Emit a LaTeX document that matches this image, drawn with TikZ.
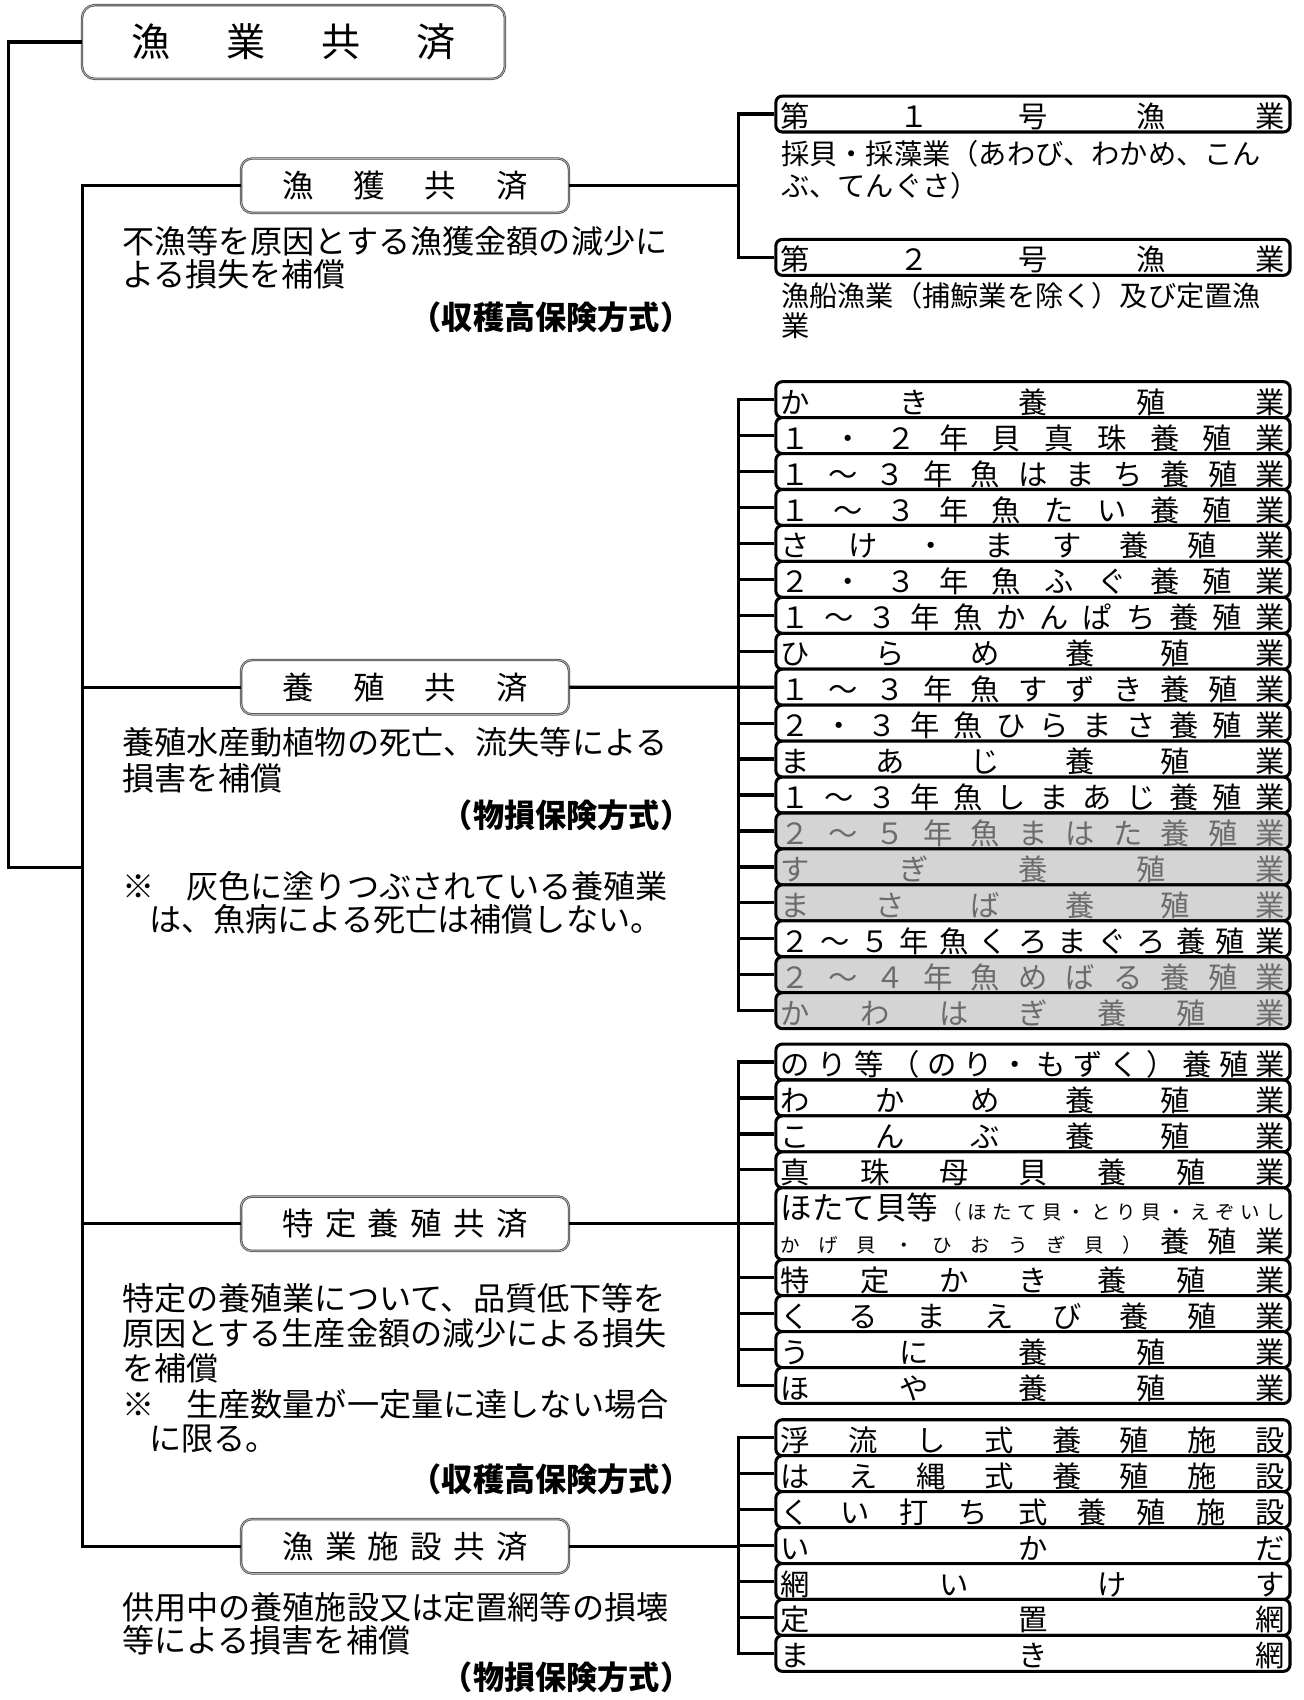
\documentclass[tikz,border=0pt]{standalone}
\usepackage{graphicx}
\usepackage{fontspec}
\setmainfont{Noto Sans CJK JP}
\makeatletter
\def\sp@A#1{\ifx\relax#1\else#1\expandafter\sp@B\fi}
\def\sp@B#1{\ifx\relax#1\else\hfill#1\expandafter\sp@B\fi}
\newcommand\spreadin[2]{\makebox[#1][s]{\sp@A#2\relax}}
\newcommand\spreadrow[1]{\spreadin{232pt}{#1}}
\newcommand\spreadx[1]{\expandafter\spreadrow\expandafter{#1}}
\makeatother
\newcommand\fTitle{\fontsize{18pt}{21pt}\selectfont}
\newcommand\fBranch{\fontsize{14.5pt}{17pt}\selectfont}
\newcommand\fDesc{\fontsize{14.8pt}{17pt}\selectfont}
\newcommand\fItem{\fontsize{13.5pt}{15pt}\selectfont}
\newcommand\fNote{\fontsize{13pt}{15pt}\selectfont}
\newcommand\fSmall{\fontsize{9pt}{11pt}\selectfont}
\newcommand\condensed[1]{\scalebox{0.97}[1]{#1}}
\tikzset{
  conn/.style={line width=1.5pt, line join=miter},
  framed/.style={draw=black!70, line width=0.35pt, double=black!30, double distance=0.4pt, fill=white, inner sep=0pt},
  topbox/.style={framed, rounded corners=6pt, minimum width=194.75pt, minimum height=34pt, font=\fTitle},
  branchbox/.style={framed, rounded corners=5pt, minimum width=151pt, minimum height=25pt, font=\fBranch},
  itembase/.style={draw=black, line width=1.4pt, rounded corners=3pt, inner sep=0pt,
    minimum width=236.75pt, minimum height=16.55pt, font=\fItem},
  rown/.style={itembase, fill=white, text height=13.9pt, text depth=1.44pt},
  rowg/.style={itembase, fill=black!17, text=black!58, text height=13.9pt, text depth=1.44pt},
  desc/.style={anchor=west, inner sep=0pt, font=\fDesc, text height=13pt, text depth=1.8pt},
  descb/.style={anchor=east, inner sep=0pt, font=\fDesc\bfseries, text height=13pt, text depth=1.8pt},
  note/.style={anchor=west, inner sep=0pt, font=\fNote, text height=11.4pt, text depth=1.6pt}
}
\begin{document}
\begin{tikzpicture}[x=0.5pt,y=-0.5pt]
\useasboundingbox (0,0) rectangle (1200,1565.6);

% title and branches
\node[topbox] (title) at (270.25,38.65) {\spreadin{149pt}{漁業共済}};
\node[branchbox] (gyokaku) at (373,171) {\spreadin{113pt}{漁獲共済}};
\node[branchbox] (yoshoku) at (373,632.85) {\spreadin{113pt}{養殖共済}};
\node[branchbox] (tokutei) at (373,1127) {\spreadin{113pt}{特定養殖共済}};
\node[branchbox] (shisetsu) at (373,1424) {\spreadin{113pt}{漁業施設共済}};

% group 1
\node[rown] (r1-1) at (951.25,105) {\spreadrow{第１号漁業}};
\node[rown] (r1-2) at (951.25,237) {\spreadrow{第２号漁業}};
\node[note] (n1a) at (719,142) {採貝・採藻業（あわび、わかめ、こん};
\node[note] (n1b) at (719,171) {ぶ、てんぐさ）};
\node[note] (n2a) at (719,272) {漁船漁業（捕鯨業を除く）及び定置漁};
\node[note] (n2b) at (719,300) {業};

% group 2
\foreach \t/\s [count=\i] in {かき養殖業/n,１・２年貝真珠養殖業/n,１～３年魚はまち養殖業/n,
  １～３年魚たい養殖業/n,さけ・ます養殖業/n,２・３年魚ふぐ養殖業/n,１～３年魚かんぱち養殖業/n,
  ひらめ養殖業/n,１～３年魚すずき養殖業/n,２・３年魚ひらまさ養殖業/n,まあじ養殖業/n,
  １～３年魚しまあじ養殖業/n,２～５年魚まはた養殖業/g,すぎ養殖業/g,まさば養殖業/g,
  ２～５年魚くろまぐろ養殖業/n,２～４年魚めばる養殖業/g,かわはぎ養殖業/g}
  \node[row\s] (r2-\i) at (951.25,{368.05+(\i-1)*33.1}) {\spreadx{\t}};

% group 3
\foreach \t/\y [count=\i] in {のり等（のり・もずく）養殖業/978.05,わかめ養殖業/1011.15,
  こんぶ養殖業/1044.25,真珠母貝養殖業/1077.35}
  \node[rown] (r3-\i) at (951.25,\y) {\spreadx{\t}};
\node[itembase, fill=white, minimum height=33.1pt, align=center, font=\fontsize{13.5pt}{15pt}\selectfont] (r3-5) at (951.25,1127)
  {\makebox[232pt][s]{{\fontsize{14.5pt}{15pt}\selectfont ほたて貝等}\hspace{2pt}{\fSmall （\hfill ほ\hfill た\hfill て\hfill 貝\hfill ・\hfill と\hfill り\hfill 貝\hfill ・\hfill え\hfill ぞ\hfill い\hfill し}}\\
   \makebox[232pt][s]{{\fSmall か\hfill げ\hfill 貝\hfill ・\hfill ひ\hfill お\hfill う\hfill ぎ\hfill 貝\hfill ）}\hfill 養\hfill 殖\hfill 業}};
\foreach \t/\y [count=\i from 6] in {特定かき養殖業/1176.65,くるまえび養殖業/1209.75,
  うに養殖業/1242.85,ほや養殖業/1275.95}
  \node[rown] (r3-\i) at (951.25,\y) {\spreadx{\t}};

% group 4
\foreach \t [count=\i] in {浮流し式養殖施設,はえ縄式養殖施設,くい打ち式養殖施設,いかだ,網いけす,定置網,まき網}
  \node[rown] (r4-\i) at (951.25,{1324.05+(\i-1)*33.1}) {\spreadx{\t}};

% left descriptions
\node[desc] (d1a) at (112,222) {不漁等を原因とする漁獲金額の減少に};
\node[desc] (d1b) at (112,253) {よる損失を補償};
\node[descb] (d1c) at (637,292) {\condensed{（収穫高保険方式）}};
\node[desc] (d2a) at (112,684) {養殖水産動植物の死亡、流失等による};
\node[desc] (d2b) at (112,717) {損害を補償};
\node[descb] (d2c) at (637,751) {\condensed{（物損保険方式）}};
\node[desc] (d2d) at (112,816) {※　灰色に塗りつぶされている養殖業};
\node[desc] (d2e) at (137,847) {は、魚病による死亡は補償しない。};
\node[desc] (d3a) at (112,1196) {特定の養殖業について、品質低下等を};
\node[desc] (d3b) at (112,1228) {原因とする生産金額の減少による損失};
\node[desc] (d3c) at (112,1260) {を補償};
\node[desc] (d3d) at (112,1293) {※　生産数量が一定量に達しない場合};
\node[desc] (d3e) at (137,1325) {に限る。};
\node[descb] (d3f) at (637,1362) {\condensed{（収穫高保険方式）}};
\node[desc] (d4a) at (112,1480) {供用中の養殖施設又は定置網等の損壊};
\node[desc] (d4b) at (112,1511) {等による損害を補償};
\node[descb] (d4c) at (637,1545) {\condensed{（物損保険方式）}};

% connectors
\coordinate (L) at (8,799);
\coordinate (M) at (76,799);
\coordinate (G) at (680,0);
\draw[conn] (title.west) -| (L) -- (M);
\draw[conn] (gyokaku.west) -- (gyokaku.west -| M) -- (shisetsu.west -| M) -- (shisetsu.west);
\draw[conn] (yoshoku.west) -- (yoshoku.west -| M);
\draw[conn] (tokutei.west) -- (tokutei.west -| M);

\draw[conn] (r1-1.west) -- (r1-1.west -| G) -- (r1-2.west -| G) -- (r1-2.west);
\draw[conn] (gyokaku.east) -- (gyokaku.east -| G);

\draw[conn] (r2-1.west) -- (r2-1.west -| G) -- (r2-18.west -| G) -- (r2-18.west);
\foreach \i in {2,...,17} \draw[conn] (r2-\i.west) -- (r2-\i.west -| G);
\draw[conn] (yoshoku.east) -- (r2-9.west);

\draw[conn] (r3-1.west) -- (r3-1.west -| G) -- (r3-9.west -| G) -- (r3-9.west);
\foreach \i in {2,...,8} \draw[conn] (r3-\i.west) -- (r3-\i.west -| G);
\draw[conn] (tokutei.east) -- (r3-5.west);

\draw[conn] (r4-1.west) -- (r4-1.west -| G) -- (r4-7.west -| G) -- (r4-7.west);
\foreach \i in {2,...,6} \draw[conn] (r4-\i.west) -- (r4-\i.west -| G);
\draw[conn] (shisetsu.east) -- (shisetsu.east -| G) |- (r4-4.west);
\end{tikzpicture}
\end{document}
